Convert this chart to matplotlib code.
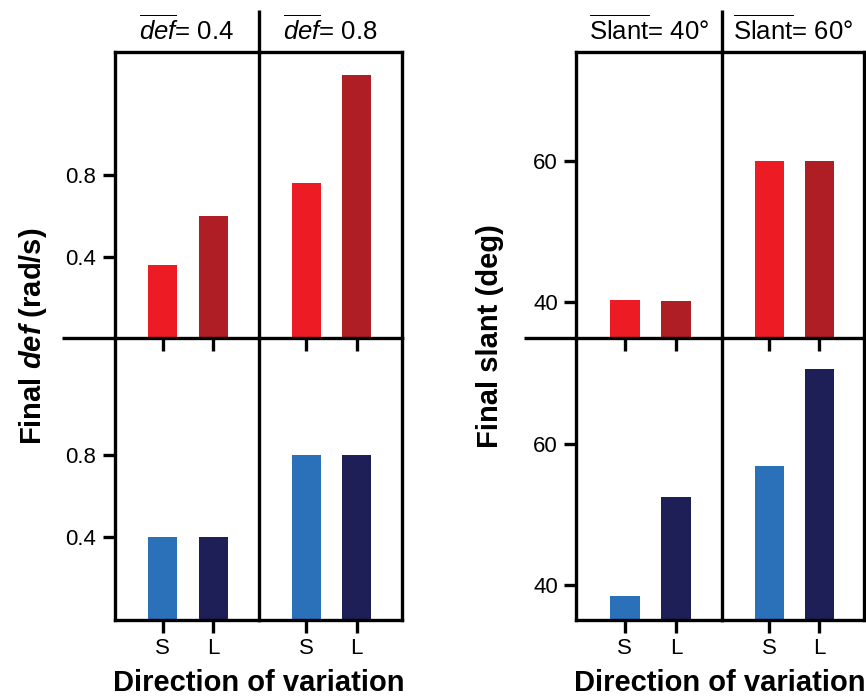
import matplotlib
matplotlib.use("Agg")
import matplotlib.pyplot as plt
from matplotlib.lines import Line2D

plt.rcParams["font.family"] = ["Liberation Sans", "DejaVu Sans"]
plt.rcParams["mathtext.fontset"] = "custom"
plt.rcParams["mathtext.rm"] = "Liberation Sans"
plt.rcParams["mathtext.it"] = "Liberation Sans:italic"
plt.rcParams["mathtext.bf"] = "Liberation Sans:bold"
plt.rcParams["mathtext.bfit"] = "Liberation Sans:italic:bold"

# data
categories = ["S", "L"]
def_titles = [r"$\overline{\mathit{def}}$= 0.4", r"$\overline{\mathit{def}}$= 0.8"]
slant_titles = [r"$\overline{\mathrm{Slant}}$= 40°", r"$\overline{\mathrm{Slant}}$= 60°"]
def_top = [[0.36, 0.60], [0.76, 1.29]]
def_bottom = [[0.40, 0.40], [0.80, 0.80]]
slant_top = [[40.3, 40.2], [60.0, 60.0]]
slant_bottom = [[38.4, 52.5], [56.9, 70.6]]
def_ticks = [0.4, 0.8]
slant_ticks = [40, 60]

red_colors = ["#ED1C24", "#AF1E24"]
blue_colors = ["#2B71B9", "#1F1F57"]

W, H = 866, 697
fig = plt.figure(figsize=(W / 100, H / 100), dpi=100)
LW = 2.4


def px_axes(x0, y0, x1, y1):
    return fig.add_axes([x0 / W, 1 - y1 / H, (x1 - x0) / W, (y1 - y0) / H])


def fig_line(xs, ys):
    fig.add_artist(Line2D([x / W for x in xs], [1 - y / H for y in ys],
                          transform=fig.transFigure, color="black", lw=LW,
                          solid_capstyle="butt"))


def panel(ax, vals, colors, ylim, yticks, top, first, labels, ylab_pad):
    ax.patch.set_visible(False)
    base = ylim[0]
    ax.bar(range(len(vals)), [v - base for v in vals], bottom=base,
           width=0.58, color=colors)
    ax.set_xlim(-0.95, 1.9)
    ax.set_ylim(*ylim)
    for s in ax.spines.values():
        s.set_linewidth(LW)
    if not top:
        ax.spines["top"].set_visible(False)
    ax.set_xticks(range(len(categories)))
    ax.set_xticklabels(categories if labels else [])
    ax.tick_params(axis="x", direction="out", length=9, width=LW,
                   labelsize=16, pad=4)
    if first:
        ax.set_yticks(yticks)
        ax.set_yticklabels([f"{t:g}" for t in yticks])
        ax.tick_params(axis="y", direction="out", length=9, width=LW,
                       labelsize=16, pad=ylab_pad)
    else:
        ax.set_yticks([])
        ax.spines["left"].set_visible(False)


groups = [
    dict(x=(115, 258.5, 402), top=def_top, bottom=def_bottom, titles=def_titles,
         ylim_top=(0, 1.405), ylim_bot=(-0.01, 1.375), ticks=def_ticks,
         ylabel=r"Final $\mathbfit{def}$ (rad/s)", ylab_x=33, line_x0=62, pad=5),
    dict(x=(576, 722, 864), top=slant_top, bottom=slant_bottom, titles=slant_titles,
         ylim_top=(34.9, 75.5), ylim_bot=(35.0, 75.0), ticks=slant_ticks,
         ylabel="Final slant (deg)", ylab_x=490, line_x0=524, pad=4),
]

y_top, y_mid, y_bot = 52, 338, 620

for g in groups:
    xs = g["x"]
    for c in range(2):
        ax_t = px_axes(xs[c], y_top, xs[c + 1], y_mid)
        panel(ax_t, g["top"][c], red_colors, g["ylim_top"], g["ticks"],
              True, c == 0, False, g["pad"])
        ax_t.set_title(g["titles"][c], fontsize=18.5, pad=9)
        ax_b = px_axes(xs[c], y_mid, xs[c + 1], y_bot)
        panel(ax_b, g["bottom"][c], blue_colors, g["ylim_bot"], g["ticks"],
              False, c == 0, True, g["pad"])
    # divider above the panels and middle line extended to the left
    fig_line([xs[1], xs[1]], [10, y_top])
    fig_line([g["line_x0"], xs[0]], [y_mid, y_mid])
    fig.text(g["ylab_x"] / W, 1 - 336 / H, g["ylabel"], rotation=90,
             ha="center", va="center", fontsize=21, fontweight="bold")
    fig.text((xs[0] + xs[2]) / 2 / W, 1 - 683 / H, "Direction of variation",
             ha="center", va="center", fontsize=21, fontweight="bold")

fig.savefig("out.png", dpi=100)
